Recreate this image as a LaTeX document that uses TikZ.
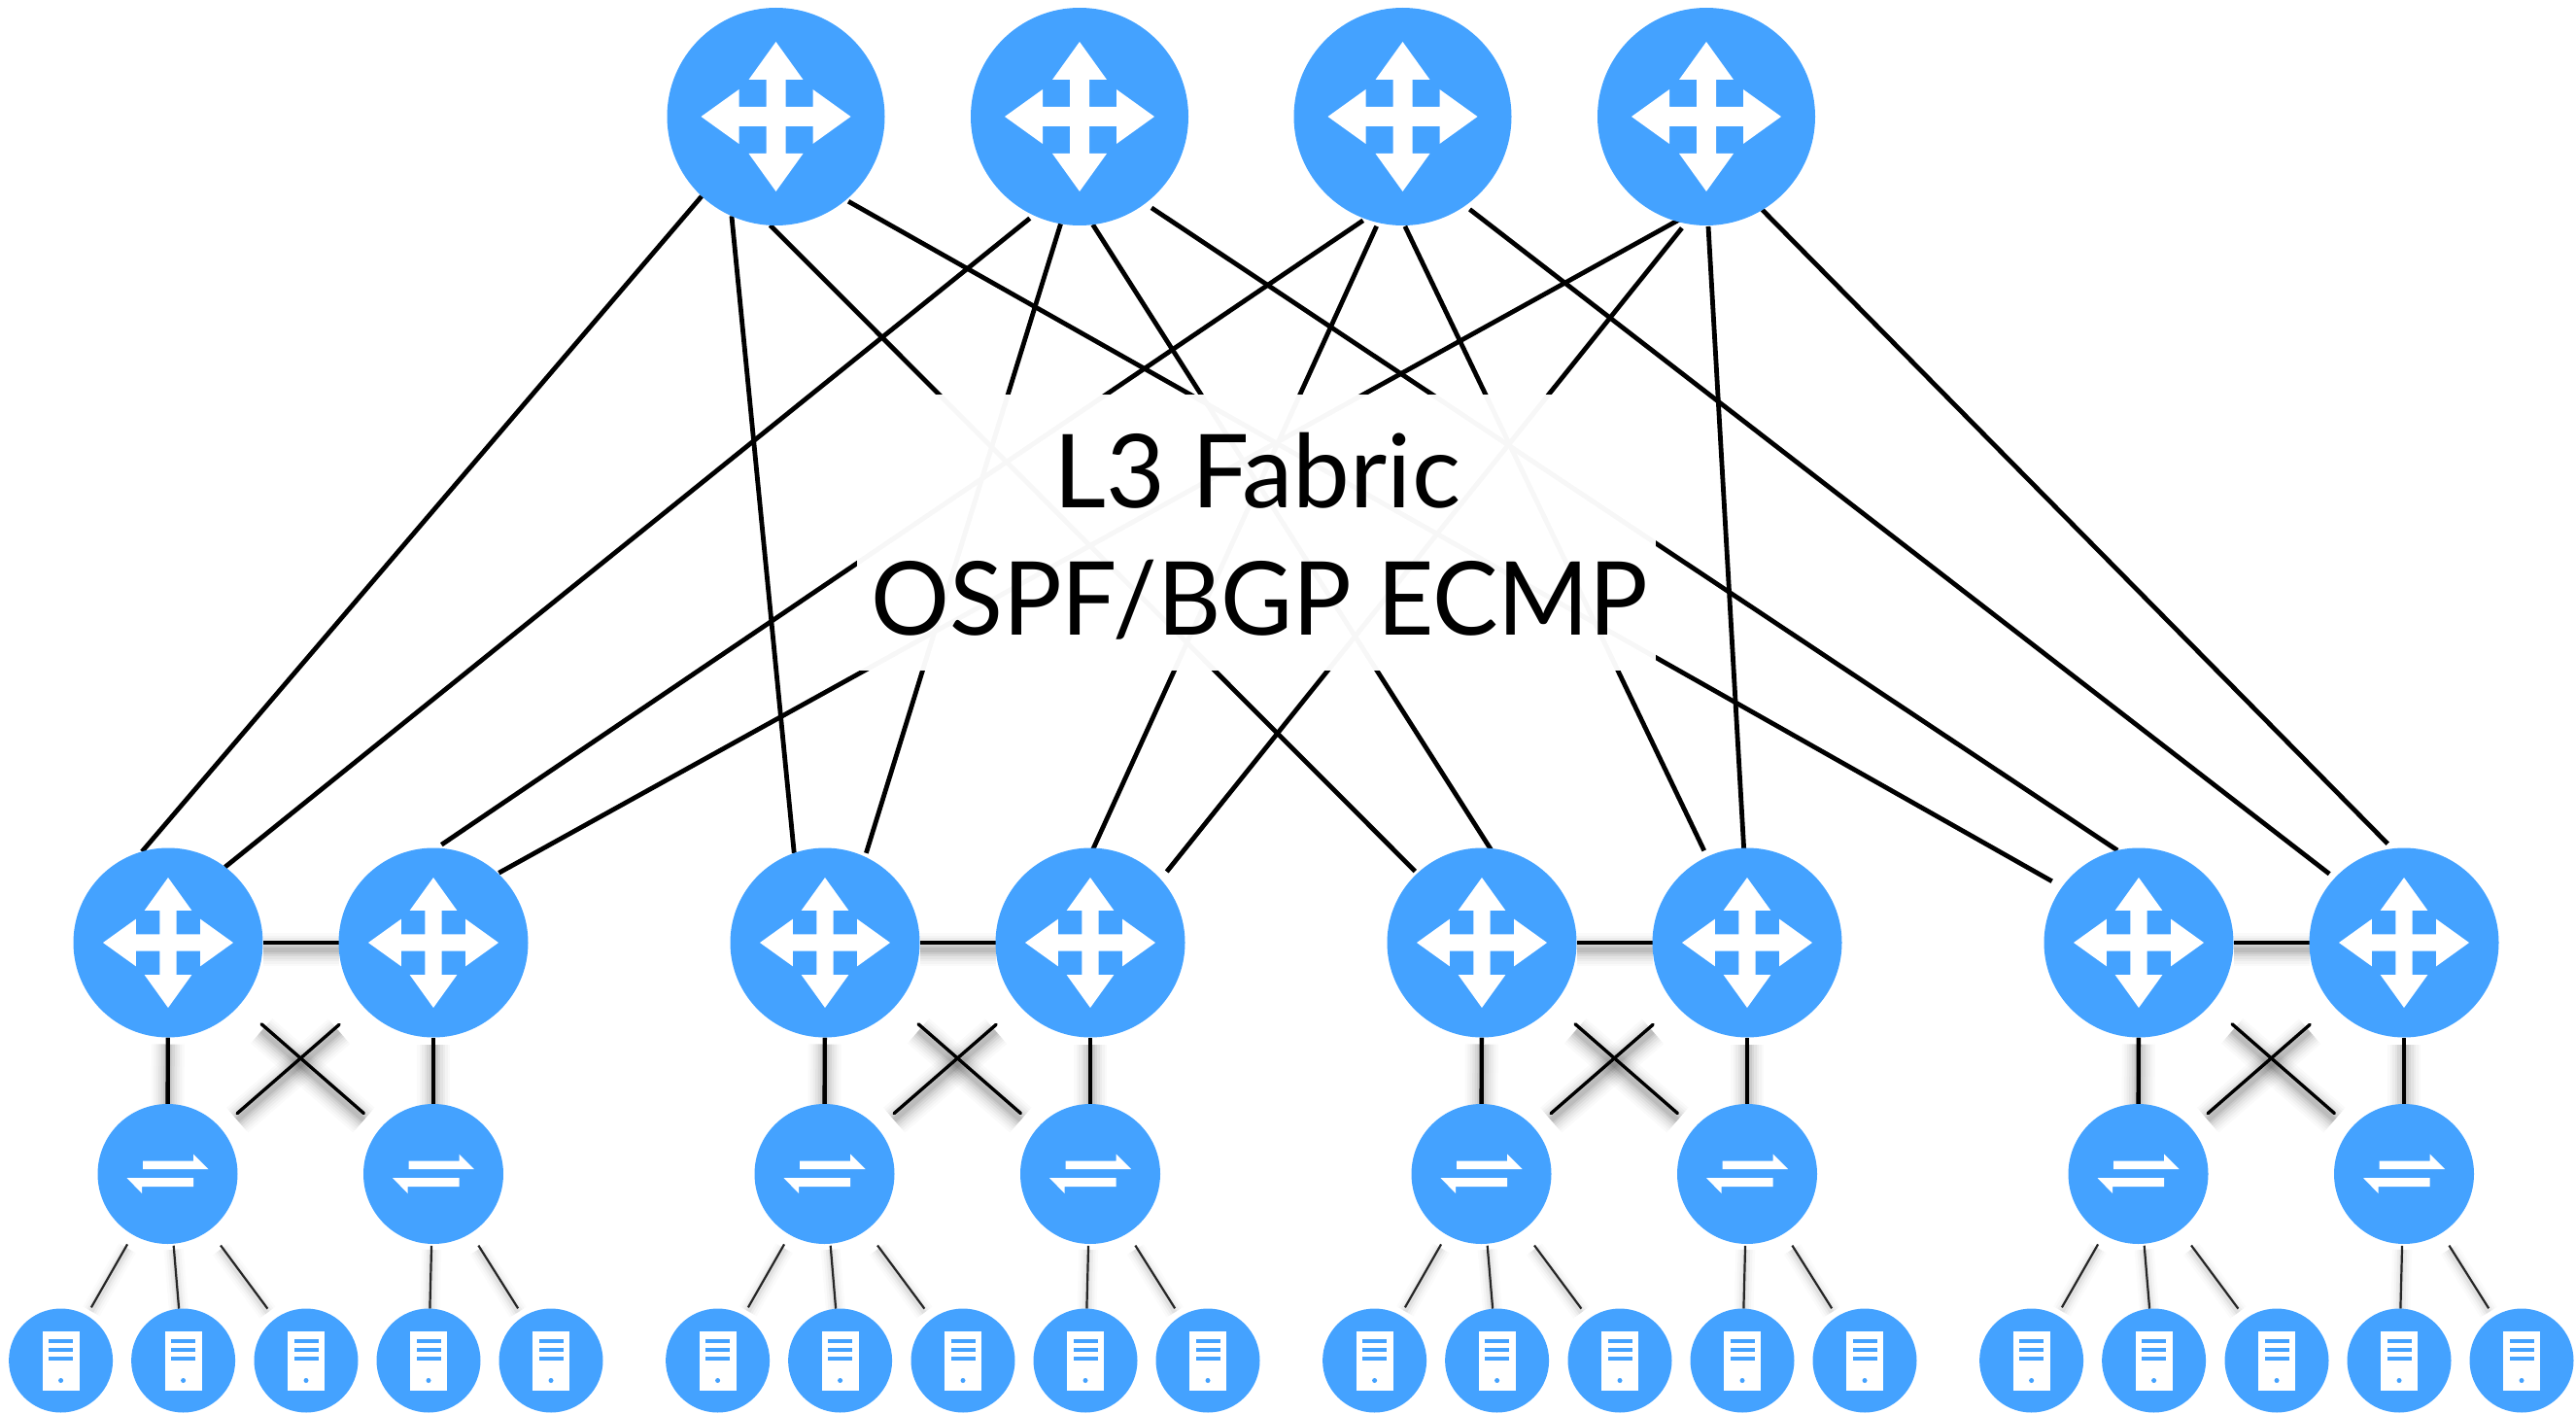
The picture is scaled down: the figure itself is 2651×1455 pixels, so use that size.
\documentclass[tikz,border=0pt]{standalone}
\usepackage{fontspec}
\setmainfont{Lato}
\usetikzlibrary{backgrounds}
\definecolor{netblue}{HTML}{44A2FF}
\tikzset{
  x=1pt,y=-1pt,
  disc/.style={circle,fill=netblue,draw=none,inner sep=0pt,outer sep=0pt},
  spine/.style={disc,minimum size=224pt},
  leaf/.style={disc,minimum size=195pt},
  tor/.style={disc,minimum size=144pt},
  host/.style={disc,minimum size=107pt},
  fabricline/.style={draw=black,line width=4.8pt},
  softbig/.style={
    preaction={draw=black,opacity=.018,line width=34pt,transform canvas={yshift=-7pt}},
    preaction={draw=black,opacity=.022,line width=29pt,transform canvas={yshift=-7pt}},
    preaction={draw=black,opacity=.03,line width=24pt,transform canvas={yshift=-7pt}},
    preaction={draw=black,opacity=.04,line width=19pt,transform canvas={yshift=-7pt}},
    preaction={draw=black,opacity=.05,line width=14pt,transform canvas={yshift=-7pt}},
    preaction={draw=black,opacity=.06,line width=9pt,transform canvas={yshift=-7pt}},
    preaction={draw=black,opacity=.07,line width=5pt,transform canvas={yshift=-7pt}}},
  softsmall/.style={
    preaction={draw=black,opacity=.015,line width=20pt,transform canvas={yshift=-4pt}},
    preaction={draw=black,opacity=.025,line width=15pt,transform canvas={yshift=-4pt}},
    preaction={draw=black,opacity=.035,line width=10pt,transform canvas={yshift=-4pt}},
    preaction={draw=black,opacity=.05,line width=5pt,transform canvas={yshift=-4pt}}},
  leaflink/.style={draw=black,line width=4.4pt,softbig},
  crosslink/.style={draw=black,line width=3.4pt,line cap=round,softbig},
  hostlink/.style={draw=black!85,line width=2.2pt,softsmall},
  mask/.style={fill=white,fill opacity=.97,draw=none,inner sep=0pt,minimum width=822pt,minimum height=284pt},
  bigtext/.style={anchor=base,inner sep=0pt,font=\fontsize{105pt}{105pt}\selectfont},
  routericon/.pic={
    \fill[white] (10,10)--(38,10)--(38,28)--(77,0)--(38,-28)--(38,-10)--(10,-10)--(10,-38)--(28,-38)--(0,-77)--(-28,-38)--(-10,-38)--(-10,-10)--(-38,-10)--(-38,-28)--(-77,0)--(-38,28)--(-38,10)--(-10,10)--(-10,38)--(-28,38)--(0,77)--(28,38)--(10,38)--cycle;
  },
  switchicon/.pic={
    \fill[white] (-25.5,-13.5)--(26.5,-13.5)--(26.5,-20.5)--(42,-5)--(-25.5,-5)--cycle;
    \fill[white] (26.5,13)--(-26.5,13)--(-26.5,20)--(-42,4)--(26.5,4)--cycle;
  },
  servericon/.pic={
    \fill[white] (-19,-30)--(19,-30)--(19,31)--(-19,31)--cycle;
    \fill[netblue] (-12.5,-22.5) rectangle (12.5,-18);
    \fill[netblue] (-12.5,-13.5) rectangle (12.5,-9.2);
    \fill[netblue] (-12.5,-4.4) rectangle (12.5,0);
    \fill[netblue] (0,20.5) circle[radius=2.5];
  },
}
% from-node, angle, shorten; to-node, angle, shorten
\newcommand{\fabline}[6]{\draw[fabricline,shorten <=#3pt,shorten >=#6pt] (#1.#2) -- (#4.#5);}
\begin{document}
\begin{tikzpicture}
\useasboundingbox (0,0) rectangle (2651,1455);
% nodes
\node[spine] (r1) at (798.5,120) {};
\node[spine] (r2) at (1111,120) {};
\node[spine] (r3) at (1443.5,120) {};
\node[spine] (r4) at (1756,120) {};
\foreach \n in {r1,r2,r3,r4} \pic at (\n) {routericon};
\foreach \g in {0,1,2,3} {
  \pgfmathsetmacro{\dx}{\g*676}
  \node[leaf] (al\g) at (173+\dx,970) {};
  \node[leaf] (ar\g) at (446+\dx,970) {};
  \node[tor] (sl\g) at (172.5+\dx,1208) {};
  \node[tor] (sr\g) at (446+\dx,1208) {};
  \pic[scale=.87] at (al\g) {routericon};
  \pic[scale=.87] at (ar\g) {routericon};
  \pic at (sl\g) {switchicon};
  \pic at (sr\g) {switchicon};
  \foreach \i/\x in {1/62.6,2/188.6,3/315,4/441,5/567} {
    \node[host] (v\g\i) at (\x+\dx,1400) {};
    \pic at (v\g\i) {servericon};
  }
}
% connectors behind the nodes
\begin{scope}[on background layer]
  % R1
  \fabline{r1}{-133.2}{0}{al0}{106.6}{0}
  \fabline{r1}{-114.9}{0}{al1}{109.3}{0}
  \fabline{r1}{-93.3}{0}{al2}{133.3}{3}
  \fabline{r1}{-50.8}{3}{al3}{144.9}{12}
  % R2
  \fabline{r2}{-115.8}{5}{al0}{53}{0}
  \fabline{r2}{-100.3}{0}{al1}{65.9}{4}
  \fabline{r2}{-83.1}{0}{al2}{85.3}{-3}
  \fabline{r2}{-53.7}{8}{al3}{103.2}{0}
  % R3
  \fabline{r3}{-110.8}{3}{ar0}{88.3}{6}
  \fabline{r3}{-103.7}{4}{ar1}{88.8}{-4}
  \fabline{r3}{-89}{1}{ar2}{115.3}{7}
  \fabline{r3}{-55.1}{6}{ar3}{137.4}{7}
  % R4
  \fabline{r4}{-106.1}{-3}{ar0}{47.5}{1}
  \fabline{r4}{-101.2}{6}{ar1}{42.5}{10}
  \fabline{r4}{-89}{1}{ar2}{92.4}{-1}
  \fabline{r4}{-59.5}{0}{ar3}{97.7}{7}
  % pods
  \foreach \g in {0,1,2,3} {
    \draw[leaflink] (al\g) -- (ar\g);
    \draw[leaflink] (al\g) -- (sl\g);
    \draw[leaflink] (ar\g) -- (sr\g);
    \draw[crosslink,shorten <=30pt,shorten >=23pt] (al\g) -- (sr\g);
    \draw[crosslink,shorten <=31pt,shorten >=23pt] (ar\g) -- (sl\g);
    \draw[hostlink,shorten <=11.4pt,shorten >=9.5pt] (sl\g) -- (v\g1);
    \draw[hostlink,shorten <=2pt] (sl\g) -- (v\g2);
    \draw[hostlink,shorten <=19.5pt,shorten >=13pt] (sl\g) -- (v\g3);
    \draw[hostlink,shorten <=2pt] (sr\g) -- (v\g4);
    \draw[hostlink,shorten <=15pt,shorten >=10pt] (sr\g) -- (v\g5);
  }
\end{scope}
% label
\node[mask] (labelbg) at (1293,548) {};
\node[bigtext] (t1) at (1294,522) {L3 Fabric};
\node[bigtext] (t2) at (1296,653) {\scalebox{.963}[1]{OSPF/BGP ECMP}};
\end{tikzpicture}
\end{document}
